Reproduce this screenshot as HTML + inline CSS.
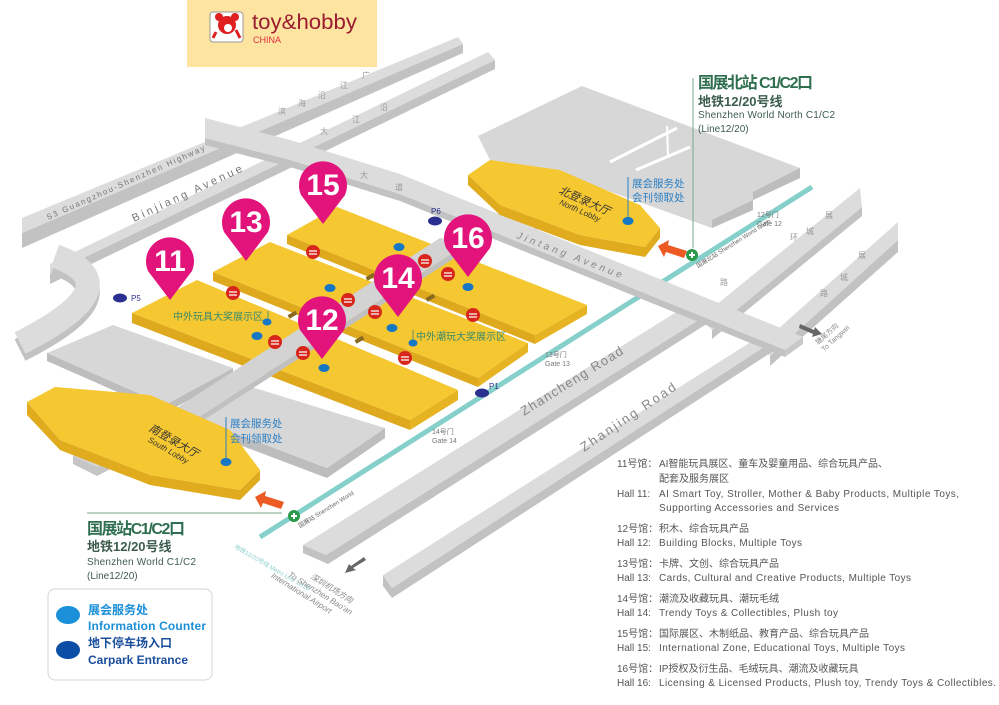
<!DOCTYPE html>
<html><head><meta charset="utf-8"><style>
html,body{margin:0;padding:0;background:#fff;}
svg{display:block;font-family:"Liberation Sans","Noto Sans CJK SC",sans-serif;}
</style></head><body>
<svg width="999" height="705" viewBox="0 0 999 705" xmlns="http://www.w3.org/2000/svg">
<rect width="999" height="705" fill="#fff"/>

<!-- S3 highway -->
<polygon points="22,233 463,44 463,53 22,248" fill="#c2c2c2"/>
<polygon points="22,218 458,37 463,44 22,233" fill="#dcdcdc"/>
<!-- Binjiang -->
<polygon points="50,274 495,60 495,69 50,284" fill="#c2c2c2"/>
<polygon points="50,264 488,52 495,60 50,274" fill="#dcdcdc"/>
<!-- curve -->
<path d="M55 263 Q135 292 20 350" stroke="#c2c2c2" stroke-width="24" fill="none"/>
<path d="M55 256 Q135 285 20 343" stroke="#dcdcdc" stroke-width="24" fill="none"/>

<!-- Road A and B -->
<polygon points="712,330 862,207 862,216 712,339" fill="#c2c2c2"/>
<polygon points="700,318 860,188 862,207 712,330" fill="#dcdcdc"/>
<polygon points="770,356 898,240 898,252 770,366" fill="#c2c2c2"/>
<polygon points="760,345 898,222 898,240 770,356" fill="#dcdcdc"/>
<!-- Zhancheng -->
<polygon points="303,545 326,555 705,316 705,325 328,564 303,553" fill="#c2c2c2"/>
<polygon points="303,545 686,306 705,316 326,555" fill="#dcdcdc"/>
<!-- Zhanjing -->
<polygon points="383,575 392,588 775,340 775,350 392,598 383,586" fill="#c2c2c2"/>
<polygon points="383,575 765,333 775,340 392,588" fill="#dcdcdc"/>

<!-- teal metro -->
<line x1="260" y1="537" x2="812" y2="187" stroke="#86d0cb" stroke-width="5"/>

<!-- Jintang road -->
<polygon points="205,138 290,160 400,194 785,350 785,357 400,201 290,167 205,145" fill="#c2c2c2"/>
<polygon points="205,118 290,140 400,174 803,337 785,350 400,194 290,160 205,138" fill="#dcdcdc"/>
<polygon points="785,350 803,337 803,344 785,357" fill="#c8c8c8"/>

<!-- North block -->
<polygon points="478,136 582,86 800,168 800,178 753,200 753,210 712,228 600,188 500,180" fill="#d7d7d7"/>
<polygon points="800,168 800,178 753,200 753,192" fill="#bdbdbd"/>
<polygon points="753,200 753,210 712,228 712,220" fill="#bdbdbd"/>
<line x1="610" y1="162" x2="677" y2="128" stroke="#fff" stroke-width="3"/>
<line x1="636" y1="170" x2="690" y2="147" stroke="#fff" stroke-width="3"/>
<line x1="667" y1="126" x2="668" y2="156" stroke="#fff" stroke-width="2"/>
<!-- lobby connector -->
<polygon points="527,214 545,206 555,222 535,230" fill="#cfcfcf"/>
<!-- North lobby -->
<polygon points="468,185 500,215 580,245 645,257 660,238 660,228 645,247 580,235 500,205 468,175" fill="#e0ab1c"/>
<polygon points="468,175 490,160 560,170 640,205 660,228 645,247 580,235 500,205" fill="#f5c731"/>

<!-- South gray blocks -->
<polygon points="47,353 165,405 233,368 233,376 165,413 47,361" fill="#bdbdbd"/>
<polygon points="47,353 113,325 233,368 165,405" fill="#d7d7d7"/>
<polygon points="200,420 327,468 385,428 385,438 327,478 200,430" fill="#bdbdbd"/>
<polygon points="200,420 245,385 385,428 327,468" fill="#d7d7d7"/>

<!-- Halls rows -->
<g>
<polygon points="287,235 535,335 535,344 287,244" fill="#dfa91d"/>
<polygon points="587,305 535,335 535,344 587,314" fill="#e6b322"/>
<polygon points="337,207 587,305 535,335 287,235" fill="#f5c731"/>
<polygon points="213,272 478,378 478,387 213,281" fill="#dfa91d"/>
<polygon points="528,343 478,378 478,387 528,352" fill="#e6b322"/>
<polygon points="270,242 528,343 478,378 213,272" fill="#f5c731"/>
<polygon points="132,313 410,420 410,430 132,323" fill="#dfa91d"/>
<polygon points="458,390 410,420 410,430 458,400" fill="#e6b322"/>
<polygon points="197,280 458,390 410,420 132,313" fill="#f5c731"/>
</g>
<!-- walkway -->
<polygon points="150,425 440,238 470,242 182,428" fill="#d3d3d3"/>
<polygon points="182,428 470,242 470,248 182,434" fill="#c0c0c0"/>
<g fill="#8a6a1e">
<rect x="366" y="275" width="9" height="4" transform="rotate(-30 370 277)"/>
<rect x="426" y="296" width="9" height="4" transform="rotate(-30 430 298)"/>
<rect x="355" y="338" width="9" height="4" transform="rotate(-30 359 340)"/>
<rect x="288" y="313" width="9" height="4" transform="rotate(-30 292 315)"/>
</g>

<!-- South lobby + small box -->
<polygon points="73,456 95,445 120,456 120,464 97,476 73,464" fill="#c6c6c6"/>
<polygon points="73,456 95,445 120,456 97,467" fill="#d7d7d7"/>
<polygon points="27,415 60,450 150,485 240,500 260,480 260,470 240,490 150,475 60,440 27,402" fill="#e0ab1c"/>
<polygon points="27,402 55,387 150,395 230,430 260,470 240,490 150,475 60,440" fill="#f5c731"/>

<g transform="translate(583,204) rotate(24)" text-anchor="middle" fill="#333" font-style="italic">
<text y="0" font-size="11">北登录大厅</text><text y="10" font-size="8">North Lobby</text></g>
<g transform="translate(172,444) rotate(30)" text-anchor="middle" fill="#333" font-style="italic">
<text y="0" font-size="11">南登录大厅</text><text y="10" font-size="8">South Lobby</text></g>

<line x1="628" y1="177" x2="628" y2="221" stroke="#2a7fc4"/>
<text x="632" y="187" font-size="10.5" fill="#2a7fc4">展会服务处</text>
<text x="632" y="201" font-size="10.5" fill="#2a7fc4">会刊领取处</text>
<line x1="226" y1="417" x2="226" y2="462" stroke="#2a7fc4"/>
<text x="230" y="427" font-size="10.5" fill="#2a7fc4">展会服务处</text>
<text x="230" y="442" font-size="10.5" fill="#2a7fc4">会刊领取处</text>

<text x="173" y="320" font-size="10" fill="#3a8a6a">中外玩具大奖展示区</text>
<line x1="268" y1="311" x2="268" y2="322" stroke="#3a8a6a" stroke-width="0.8"/>
<text x="416" y="340" font-size="10" fill="#3a8a6a">中外潮玩大奖展示区</text>
<line x1="413" y1="330" x2="413" y2="341" stroke="#3a8a6a" stroke-width="0.8"/>

<g fill="#1677c4">
<ellipse cx="399" cy="247" rx="5.5" ry="4"/><ellipse cx="330" cy="288" rx="5.5" ry="4"/>
<ellipse cx="267" cy="322" rx="4.5" ry="3.5"/><ellipse cx="257" cy="336" rx="5.5" ry="4"/>
<ellipse cx="468" cy="287" rx="5.5" ry="4"/><ellipse cx="392" cy="328" rx="5.5" ry="4"/>
<ellipse cx="413" cy="343" rx="4.5" ry="3.5"/><ellipse cx="324" cy="368" rx="5.5" ry="4"/>
<ellipse cx="226" cy="462" rx="5.5" ry="4"/><ellipse cx="628" cy="221" rx="5.5" ry="4"/>
</g>
<g fill="#2b2f8f">
<ellipse cx="120" cy="298" rx="7" ry="4.5"/><ellipse cx="435" cy="221" rx="7" ry="4.5"/><ellipse cx="482" cy="393" rx="7" ry="4.5"/>
</g>
<g font-size="8" fill="#2b2f8f"><text x="131" y="301">P5</text><text x="431" y="214">P6</text><text x="489" y="389">P1</text></g>

<g>
<g transform="translate(313,252)"><circle r="7" fill="#d9261c"/><path d="M-4,-1 L4,-1 M-4,2 L4,2" stroke="#fff" stroke-width="1.3"/></g>
<g transform="translate(233,293)"><circle r="7" fill="#d9261c"/><path d="M-4,-1 L4,-1 M-4,2 L4,2" stroke="#fff" stroke-width="1.3"/></g>
<g transform="translate(348,300)"><circle r="7" fill="#d9261c"/><path d="M-4,-1 L4,-1 M-4,2 L4,2" stroke="#fff" stroke-width="1.3"/></g>
<g transform="translate(375,312)"><circle r="7" fill="#d9261c"/><path d="M-4,-1 L4,-1 M-4,2 L4,2" stroke="#fff" stroke-width="1.3"/></g>
<g transform="translate(275,342)"><circle r="7" fill="#d9261c"/><path d="M-4,-1 L4,-1 M-4,2 L4,2" stroke="#fff" stroke-width="1.3"/></g>
<g transform="translate(303,353)"><circle r="7" fill="#d9261c"/><path d="M-4,-1 L4,-1 M-4,2 L4,2" stroke="#fff" stroke-width="1.3"/></g>
<g transform="translate(425,261)"><circle r="7" fill="#d9261c"/><path d="M-4,-1 L4,-1 M-4,2 L4,2" stroke="#fff" stroke-width="1.3"/></g>
<g transform="translate(448,274)"><circle r="7" fill="#d9261c"/><path d="M-4,-1 L4,-1 M-4,2 L4,2" stroke="#fff" stroke-width="1.3"/></g>
<g transform="translate(473,315)"><circle r="7" fill="#d9261c"/><path d="M-4,-1 L4,-1 M-4,2 L4,2" stroke="#fff" stroke-width="1.3"/></g>
<g transform="translate(405,358)"><circle r="7" fill="#d9261c"/><path d="M-4,-1 L4,-1 M-4,2 L4,2" stroke="#fff" stroke-width="1.3"/></g>
</g>

<g font-family="'Liberation Sans Narrow','Liberation Sans',sans-serif" font-weight="bold" font-size="30" fill="#fff" text-anchor="middle">
<g transform="translate(170,261)"><path d="M-22,10 A24,24 0 1 1 22,10 L0,39 Z" fill="#e2137b"/><text y="10">11</text></g>
<g transform="translate(246,222)"><path d="M-22,10 A24,24 0 1 1 22,10 L0,39 Z" fill="#e2137b"/><text y="10">13</text></g>
<g transform="translate(323,185)"><path d="M-22,10 A24,24 0 1 1 22,10 L0,39 Z" fill="#e2137b"/><text y="10">15</text></g>
<g transform="translate(468,238)"><path d="M-22,10 A24,24 0 1 1 22,10 L0,39 Z" fill="#e2137b"/><text y="10">16</text></g>
<g transform="translate(398,278)"><path d="M-22,10 A24,24 0 1 1 22,10 L0,39 Z" fill="#e2137b"/><text y="10">14</text></g>
<g transform="translate(322,320)"><path d="M-22,10 A24,24 0 1 1 22,10 L0,39 Z" fill="#e2137b"/><text y="10">12</text></g>
</g>

<text transform="translate(48,220) rotate(-24)" font-size="8" fill="#777" textLength="172" lengthAdjust="spacing">S3 Guangzhou-Shenzhen Highway</text>
<text transform="translate(134,222) rotate(-25)" font-size="11" fill="#777" textLength="120" lengthAdjust="spacing">Binjiang Avenue</text>
<text transform="translate(516,238) rotate(21)" font-size="10" font-style="italic" fill="#888" textLength="112" lengthAdjust="spacing">Jintang Avenue</text>
<text transform="translate(524,416) rotate(-32)" font-size="13" fill="#888" textLength="118" lengthAdjust="spacing">Zhancheng Road</text>
<text transform="translate(584,452) rotate(-34)" font-size="13" fill="#888" textLength="112" lengthAdjust="spacing">Zhanjing Road</text>
<g font-size="8" fill="#999">
<text x="278" y="114">滨</text><text x="298" y="106">海</text><text x="318" y="98">沿</text><text x="340" y="88">江</text><text x="362" y="78">广</text>
<text x="320" y="134">大</text><text x="352" y="122">江</text><text x="380" y="110">沿</text>
<text x="360" y="178">大</text><text x="395" y="190">道</text>
<text x="790" y="240">环</text><text x="806" y="234">城</text><text x="825" y="218">展</text>
<text x="820" y="296">路</text><text x="840" y="280">城</text><text x="858" y="258">展</text>
<text x="720" y="285">路</text>
</g>

<g font-size="7" fill="#777">
<text x="757" y="217">12号门</text><text x="757" y="226">Gate 12</text>
<text x="545" y="357">13号门</text><text x="545" y="366">Gate 13</text>
<text x="432" y="434">14号门</text><text x="432" y="443">Gate 14</text>
</g>

<g transform="translate(294,516)"><circle r="6" fill="#2a9a4a"/><path d="M-3,0 L3,0 M0,-3 L0,3" stroke="#fff" stroke-width="2"/></g>
<g transform="translate(692,255)"><circle r="6" fill="#2a9a4a"/><path d="M-3,0 L3,0 M0,-3 L0,3" stroke="#fff" stroke-width="2"/></g>
<text transform="translate(300,528) rotate(-32)" font-size="6" fill="#666">国展站 Shenzhen World</text>
<text transform="translate(698,268) rotate(-32)" font-size="6" fill="#666">国展北站 Shenzhen World North</text>
<text transform="translate(234,548) rotate(30)" font-size="6" fill="#8ccfcf">地铁12/20号线 Metro Line 12/20</text>

<path d="M658,246 L669,240 L668,245 L687,251 L684,258 L666,252 L664,257 Z" fill="#ee5a24"/>
<path d="M255,497 L266,491 L265,496 L284,502 L281,509 L263,503 L261,508 Z" fill="#ee5a24"/>

<path d="M800,324 L814,330 L815,327 L822,334 L812,337 L813,334 L799,328 Z" fill="#666"/>
<g transform="translate(818,345) rotate(-42)" font-size="7" fill="#888"><text>塘尾方向</text><text y="9">To Tangwei</text></g>
<path d="M366,560 L353,568 L356,570 L345,573 L349,564 L351,566 L364,557 Z" fill="#666"/>
<g transform="translate(310,578) rotate(32)" font-size="8" fill="#888" font-style="italic">
<text>深圳机场方向</text><text x="-20" y="10">To Shenzhen Bao'an</text><text x="-34" y="20">International Airport</text></g>

<line x1="693" y1="78" x2="693" y2="248" stroke="#7aa88a"/>
<text x="698" y="88" font-size="16" font-weight="bold" fill="#2f6e4f" textLength="115">国展北站 C1/C2口</text>
<text x="698" y="106" font-size="13" font-weight="bold" fill="#3d5d4d">地铁12/20号线</text>
<text x="698" y="118" font-size="10" fill="#3d5d4d" textLength="137">Shenzhen World North C1/C2</text>
<text x="698" y="132" font-size="10" fill="#3d5d4d">(Line12/20)</text>
<line x1="87" y1="513" x2="282" y2="513" stroke="#7aa88a"/>
<text x="87" y="534" font-size="16" font-weight="bold" fill="#2f6e4f" textLength="98">国展站C1/C2口</text>
<text x="87" y="551" font-size="13" font-weight="bold" fill="#3d5d4d">地铁12/20号线</text>
<text x="87" y="565" font-size="10" fill="#3d5d4d" textLength="109">Shenzhen World  C1/C2</text>
<text x="87" y="579" font-size="10" fill="#3d5d4d">(Line12/20)</text>

<rect x="48" y="589" width="164" height="91" rx="7" fill="#fff" stroke="#d0d4dc"/>
<ellipse cx="68" cy="615" rx="12" ry="9" fill="#1b8fd8"/>
<ellipse cx="68" cy="650" rx="12" ry="9" fill="#0b4ea6"/>
<text x="88" y="614" font-size="12" font-weight="bold" fill="#1b8fd8">展会服务处</text>
<text x="88" y="630" font-size="12" font-weight="bold" fill="#1b8fd8" textLength="118">Information Counter</text>
<text x="88" y="647" font-size="12" font-weight="bold" fill="#1a4d9c">地下停车场入口</text>
<text x="88" y="664" font-size="12" font-weight="bold" fill="#1a4d9c" textLength="100">Carpark Entrance</text>

<g font-size="10" fill="#555">
<text x="617" y="467">11号馆：</text><text x="659" y="467" textLength="229">AI智能玩具展区、童车及婴童用品、综合玩具产品、</text>
<text x="659" y="482">配套及服务展区</text>
<text x="617" y="497">Hall 11:</text><text x="659" y="497" textLength="300">AI Smart Toy, Stroller, Mother &amp; Baby Products, Multiple Toys,</text>
<text x="659" y="511" textLength="180">Supporting Accessories and Services</text>
<text x="617" y="532">12号馆：</text><text x="659" y="532">积木、综合玩具产品</text>
<text x="617" y="546">Hall 12:</text><text x="659" y="546" textLength="143">Building Blocks, Multiple Toys</text>
<text x="617" y="567">13号馆：</text><text x="659" y="567">卡牌、文创、综合玩具产品</text>
<text x="617" y="581">Hall 13:</text><text x="659" y="581" textLength="252">Cards, Cultural and Creative Products, Multiple Toys</text>
<text x="617" y="602">14号馆：</text><text x="659" y="602">潮流及收藏玩具、潮玩毛绒</text>
<text x="617" y="616">Hall 14:</text><text x="659" y="616" textLength="179">Trendy Toys &amp; Collectibles, Plush toy</text>
<text x="617" y="637">15号馆：</text><text x="659" y="637">国际展区、木制纸品、教育产品、综合玩具产品</text>
<text x="617" y="651">Hall 15:</text><text x="659" y="651" textLength="246">International Zone, Educational Toys, Multiple Toys</text>
<text x="617" y="672">16号馆：</text><text x="659" y="672">IP授权及衍生品、毛绒玩具、潮流及收藏玩具</text>
<text x="617" y="686">Hall 16:</text><text x="659" y="686" textLength="337">Licensing &amp; Licensed Products, Plush toy, Trendy Toys &amp; Collectibles.</text>
</g>

<rect x="187" y="0" width="190" height="67" fill="#fde4a0"/>
<rect x="210" y="12" width="33" height="30" rx="3" fill="#fff" stroke="#999"/>
<circle cx="227" cy="25" r="9" fill="#e02020"/>
<circle cx="219" cy="17" r="4" fill="#e02020"/><circle cx="235" cy="17" r="4" fill="#e02020"/>
<circle cx="228" cy="28" r="4" fill="#fff"/>
<path d="M216,32 L213,38 M236,30 L240,38" stroke="#e02020" stroke-width="3"/>
<text x="252" y="29" font-size="21" fill="#9b1b30" textLength="105" lengthAdjust="spacingAndGlyphs">toy&amp;hobby</text>
<text x="253" y="43" font-size="9" fill="#e03040">CHINA</text>
</svg>
</body></html>
